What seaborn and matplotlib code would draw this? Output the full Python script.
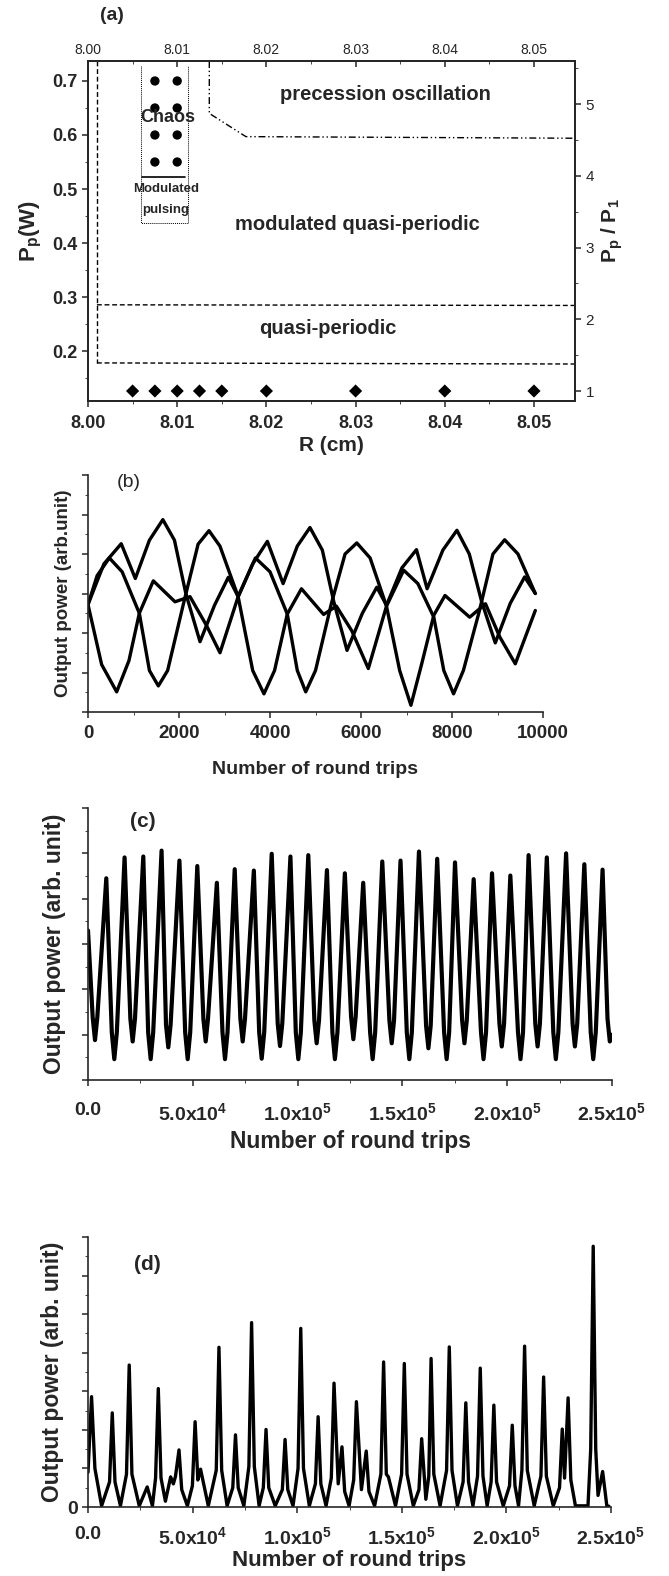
import numpy as np
import pandas as pd
import seaborn as sns
import matplotlib.pyplot as plt
from matplotlib.ticker import MultipleLocator, NullFormatter

# ---------------- panel (a): phase diagram ----------------
diamond_R = [8.005, 8.0075, 8.01, 8.0125, 8.015, 8.02, 8.03, 8.04, 8.05]
diamond_P = [0.126, 0.126, 0.126, 0.126, 0.126, 0.126, 0.126, 0.126, 0.126]
chaos_R = [8.0075, 8.01, 8.0075, 8.01, 8.0075, 8.01, 8.0075, 8.01]
chaos_P = [0.70, 0.70, 0.65, 0.65, 0.60, 0.60, 0.55, 0.55]

edge_R = [8.001, 8.001]
edge_P = [0.737, 0.178]
qp_low_R = [8.001, 8.0546]
qp_low_P = [0.178, 0.176]
qp_up_R = [8.001, 8.0546]
qp_up_P = [0.2856, 0.2844]
prec_R = [8.0136, 8.0136, 8.0177, 8.0546]
prec_P = [0.737, 0.640, 0.597, 0.594]
box_R = [8.0059, 8.0059, 8.0112, 8.0112]
box_P = [0.728, 0.4375, 0.4375, 0.728]
bar_R = [8.006, 8.0109]
bar_P = [0.522, 0.522]

# ---------------- panel (b): three output powers ----------------
b1_x = [0, 200, 469, 750, 1128, 1350, 1546, 1750, 2100, 2420, 2659, 2900, 3300, 3620, 3867, 4100,
        4380, 4691, 4930, 5178, 5459, 5800, 6161, 6560, 6938, 7250, 7600, 7820, 8034, 8250, 8600,
        8900, 9157, 9450, 9831]
b1_y = [2.72, 3.45, 3.90, 3.55, 2.50, 1.05, 0.66, 1.05, 2.75, 4.25, 4.59, 4.20, 2.92, 1.05, 0.46, 1.05,
        2.48, 3.12, 2.80, 2.47, 2.68, 2.05, 1.10, 2.68, 3.59, 3.25, 2.40, 1.05, 0.46, 1.05, 2.55,
        4.00, 4.36, 4.00, 3.00]
b2_x = [0, 350, 730, 1040, 1350, 1645, 1900, 2150, 2462, 2780, 3084, 3300, 3620, 3942, 4288, 4600,
        4878, 5150, 5400, 5693, 6030, 6348, 6560, 6900, 7219, 7453, 7800, 8108, 8380, 8650, 8951,
        9280, 9597, 9831]
b2_y = [2.72, 3.75, 4.26, 3.38, 4.35, 4.87, 4.35, 3.00, 1.78, 2.70, 3.41, 2.92, 3.75, 4.32, 3.25, 4.20,
        4.67, 4.10, 2.80, 1.56, 2.50, 3.16, 2.70, 3.65, 4.11, 3.12, 4.10, 4.60, 4.00, 2.80, 1.75,
        2.75, 3.42, 3.00]
b3_x = [0, 300, 630, 900, 1128, 1436, 1912, 2242, 2600, 2901, 3300, 3680, 4000, 4380, 4600, 4785,
        5000, 5350, 5650, 5908, 6200, 6560, 6850, 7097, 7330, 7600, 7846, 8389, 8736, 9050, 9391,
        9831]
b3_y = [2.72, 1.20, 0.51, 1.30, 2.50, 3.32, 2.79, 2.92, 2.20, 1.50, 2.92, 3.90, 3.55, 2.48, 1.05, 0.51,
        1.05, 2.75, 4.00, 4.28, 3.90, 2.68, 1.05, 0.17, 1.20, 2.45, 2.95, 2.40, 2.74, 1.90, 1.22,
        2.57]

# ---------------- panel (c): regular pulsing ----------------
c_peak_x = [8725, 17450, 26380, 35100, 43620, 52150, 61480, 70000, 79130, 87650,
            96580, 105100, 114000, 122550, 131300, 140400, 149100, 157900, 166600, 175100,
            184000, 192750, 201500, 210200, 218900, 228100, 236800, 245500]
c_peak_y = [4.45, 4.91, 4.93, 5.06, 4.84, 4.72, 4.35, 4.65, 4.62, 4.99,
            4.93, 4.96, 4.63, 4.56, 4.35, 4.82, 4.84, 5.04, 4.88, 4.80,
            4.43, 4.56, 4.51, 4.96, 4.91, 5.00, 4.76, 4.64]
c_trough_x = [0, 3340, 12550, 21310, 29900, 38310, 47560, 56150, 65360, 73800, 82870,
              91600, 100340, 109100, 117800, 126600, 135800, 144900, 153300, 162400, 171100,
              179600, 188700, 197400, 206350, 214500, 223200, 232300, 241050, 248960, 250000]
c_trough_y = [3.30, 0.88, 0.46, 0.85, 0.46, 0.72, 0.46, 0.85, 0.46, 0.85, 0.47,
              0.75, 0.46, 0.81, 0.46, 0.90, 0.46, 0.81, 0.46, 0.70, 0.46,
              0.81, 0.46, 0.74, 0.46, 0.74, 0.46, 0.74, 0.46, 0.85, 1.00]
# rounded bottoms of the troughs
c_side_x = [2240, 4440, 11350, 13750, 20210, 22410, 28700, 31100, 37210, 39410, 46360, 48760,
            55050, 57250, 64160, 66560, 72700, 74900, 81670, 84070, 90500, 92700, 99140, 101540,
            108000, 110200, 116600, 119000, 125500, 127700, 134600, 137000, 143800, 146000,
            152100, 154500, 161300, 163500, 169900, 172300, 178500, 180700, 187500, 189900,
            196300, 198500, 205150, 207550, 213400, 215600, 222000, 224400, 231200, 233400,
            239850, 242250, 247860]
c_side_y = [1.38, 1.38, 1.05, 1.05, 1.35, 1.35, 1.05, 1.05, 1.22, 1.22, 1.05, 1.05,
            1.35, 1.35, 1.05, 1.05, 1.35, 1.35, 1.05, 1.05, 1.25, 1.25, 1.05, 1.05,
            1.31, 1.31, 1.05, 1.05, 1.40, 1.40, 1.05, 1.05, 1.31, 1.31,
            1.05, 1.05, 1.20, 1.20, 1.05, 1.05, 1.31, 1.31, 1.05, 1.05,
            1.24, 1.24, 1.05, 1.05, 1.24, 1.24, 1.05, 1.05, 1.24, 1.24,
            1.05, 1.05, 1.35]

# ---------------- panel (d): irregular pulsing ----------------
d_x = [0, 1700, 3300, 6500, 11600, 15500, 19700, 24500, 28300, 30800,
       33600, 37000, 39500, 40800, 41800, 43500, 47500, 51200, 52500, 53800,
       57500, 62600, 66500, 70500, 74500, 78200, 81800, 85100, 89500, 94200,
       98000, 101700, 105800, 110000, 113800, 117600, 119600, 121400, 124800, 128300,
       130700, 133000, 137000, 141300, 142600, 143600, 147000, 151200, 155500, 159500,
       161500, 164000, 168300, 172700, 176600, 180600, 184000, 187500, 190800, 194000,
       198500, 202800, 205800, 208700, 213300, 217800, 222400, 226700, 227800, 229500,
       233000, 239000, 241500, 243800, 246000, 248000, 249000]
d_y = [0.90, 2.86, 1.00, 0.03, 2.44, 0.03, 3.68, 0.03, 0.52, 0.03,
       3.07, 0.15, 0.78, 0.60, 0.79, 1.48, 0.03, 2.21, 0.70, 0.98,
       0.03, 4.14, 0.03, 1.87, 0.03, 4.78, 0.03, 2.01, 0.03, 1.75,
       0.03, 4.63, 0.03, 2.34, 0.03, 3.21, 0.60, 1.56, 0.03, 2.73,
       0.45, 1.45, 0.03, 3.76, 0.85, 0.78, 0.03, 3.72, 0.03, 1.77,
       0.20, 3.85, 0.03, 4.15, 0.03, 2.70, 0.03, 3.60, 0.03, 2.64,
       0.03, 2.12, 0.03, 4.17, 0.03, 3.37, 0.03, 2.02, 0.75, 2.83,
       0.03, 0.03, 6.76, 0.30, 0.92, 0.03, 0.02]
# flanks of the spikes, where they meet the broad base
d_foot_x = [10300, 12900, 18400, 21000, 32300, 34900, 44800, 49900, 61300, 63900,
            69200, 71800, 76900, 79500, 83800, 86400, 92900, 95500, 100400, 103000,
            108700, 111300, 116300, 122700, 127000, 134300, 140000, 149900, 152500,
            158200, 162900, 165300, 171400, 174000, 179300, 181900, 186200, 188800,
            192700, 195300, 201500, 204100, 207400, 210000, 216500, 219100, 225400,
            230800, 240300, 242700]
d_foot_y = [0.65, 0.65, 0.85, 0.85, 0.75, 0.75, 0.45, 0.55, 0.95, 0.95,
            0.50, 0.50, 1.05, 1.05, 0.50, 0.50, 0.45, 0.45, 1.00, 1.00,
            0.60, 0.60, 0.75, 0.40, 0.70, 0.40, 0.85, 0.85, 0.85,
            0.45, 0.80, 0.85, 0.95, 0.95, 0.65, 0.65, 0.80, 0.80,
            0.65, 0.65, 0.55, 0.55, 0.95, 0.95, 0.80, 0.80, 0.50,
            0.70, 1.50, 1.50]

sns.set_style('ticks')
plt.rcParams['font.family'] = ['Liberation Sans', 'DejaVu Sans']
plt.rcParams['mathtext.fontset'] = 'custom'
plt.rcParams['mathtext.rm'] = 'Liberation Sans'
plt.rcParams['mathtext.bf'] = 'Liberation Sans:bold'
plt.rcParams['mathtext.default'] = 'regular'
plt.rcParams['axes.linewidth'] = 1.2
plt.rcParams['xtick.major.width'] = 1.1
plt.rcParams['ytick.major.width'] = 1.1

W, H = 669, 1576
fig = plt.figure(figsize=(W / 100, H / 100), dpi=100)


def box(l, t, r, b):
    return [l / W, 1 - b / H, (r - l) / W, (b - t) / H]


bold = dict(fontweight='bold')

# ---- (a)
ax_a = fig.add_axes(box(88, 61, 575, 401))
ax_a.set_xlim(8.0, 8.0546)
ax_a.set_ylim(0.1075, 0.737)
ls_dash = (0, (3.5, 2))
ax_a.plot(edge_R, edge_P, color='black', lw=1.0, ls=ls_dash)
ax_a.plot(qp_low_R, qp_low_P, color='black', lw=1.0, ls=ls_dash)
ax_a.plot(qp_up_R, qp_up_P, color='black', lw=1.0, ls=ls_dash)
ax_a.plot(prec_R, prec_P, color='black', lw=1.0, ls=(0, (5, 2, 1, 2, 1, 2)))
ax_a.plot(box_R, box_P, color='black', lw=0.7, ls=(0, (1, 1)))
ax_a.plot(bar_R, bar_P, color='black', lw=1.2)
sns.scatterplot(x=chaos_R, y=chaos_P, ax=ax_a, color='black', s=45, marker='o', edgecolor='none')
sns.scatterplot(x=diamond_R, y=diamond_P, ax=ax_a, color='black', s=45, marker='D', edgecolor='none')

ax_a.text(8.0089, 0.632, 'Chaos', ha='center', va='center', fontsize=13, **bold)
ax_a.text(8.0088, 0.500, 'Modulated', ha='center', va='center', fontsize=9.5, **bold)
ax_a.text(8.0087, 0.461, 'pulsing', ha='center', va='center', fontsize=9.5, **bold)
ax_a.text(8.0333, 0.675, 'precession oscillation', ha='center', va='center', fontsize=14.5, **bold)
ax_a.text(8.0302, 0.434, 'modulated quasi-periodic', ha='center', va='center', fontsize=14.5, **bold)
ax_a.text(8.0269, 0.241, 'quasi-periodic', ha='center', va='center', fontsize=14.5, **bold)

ax_a.set_xticks([8.00, 8.01, 8.02, 8.03, 8.04, 8.05])
ax_a.set_xticklabels(['8.00', '8.01', '8.02', '8.03', '8.04', '8.05'], fontsize=13, **bold)
ax_a.xaxis.set_minor_locator(MultipleLocator(0.005))
ax_a.set_yticks([0.2, 0.3, 0.4, 0.5, 0.6, 0.7])
ax_a.set_yticklabels(['0.2', '0.3', '0.4', '0.5', '0.6', '0.7'], fontsize=13, **bold)
ax_a.yaxis.set_minor_locator(MultipleLocator(0.05))
ax_a.tick_params(which='major', length=4, direction='out')
ax_a.tick_params(which='minor', length=2.5, direction='out')
ax_a.tick_params(axis='x', pad=6)
ax_a.set_xlabel('R (cm)', fontsize=15, labelpad=3, **bold)
ax_a.set_ylabel(r'P$_\mathbf{p}$(W)', fontsize=16, labelpad=6, **bold)

top = ax_a.twiny()
top.set_xlim(ax_a.get_xlim())
top.set_xticks([8.00, 8.01, 8.02, 8.03, 8.04, 8.05])
top.set_xticklabels(['8.00', '8.01', '8.02', '8.03', '8.04', '8.05'], fontsize=10)
top.xaxis.set_minor_locator(MultipleLocator(0.005))
top.tick_params(which='major', length=4, direction='in', pad=3)
top.tick_params(which='minor', length=2.5, direction='in')

right = ax_a.twinx()
p1 = 0.126
right.set_ylim(1 + (0.1075 - p1) / 0.1328, 1 + (0.737 - p1) / 0.1328)
right.set_yticks([1, 2, 3, 4, 5])
right.set_yticklabels(['1', '2', '3', '4', '5'], fontsize=11)
right.yaxis.set_minor_locator(MultipleLocator(0.5))
right.tick_params(which='major', length=4, direction='out')
right.tick_params(which='minor', length=2.5, direction='out')
right.set_ylabel(r'P$_\mathbf{p}$ / P$_\mathbf{1}$', fontsize=15, labelpad=4, **bold)
fig.text(112 / W, 1 - 15 / H, '(a)', ha='center', va='center', fontsize=14, **bold)

# ---- (b)
ax_b = fig.add_axes(box(88, 475, 543, 712))
for xs, ys in [(b1_x, b1_y), (b2_x, b2_y), (b3_x, b3_y)]:
    sns.lineplot(x=xs, y=ys, ax=ax_b, color='black', lw=2.4, estimator=None)
ax_b.set_xlim(0, 10000)
ax_b.set_ylim(0, 6)
ax_b.set_xticks([0, 2000, 4000, 6000, 8000, 10000])
ax_b.set_xticklabels(['0', '2000', '4000', '6000', '8000', '10000'], fontsize=13.5, **bold)
ax_b.xaxis.set_minor_locator(MultipleLocator(1000))
ax_b.yaxis.set_major_locator(MultipleLocator(1))
ax_b.yaxis.set_minor_locator(MultipleLocator(0.5))
ax_b.yaxis.set_major_formatter(NullFormatter())
ax_b.tick_params(which='major', length=4, direction='out')
ax_b.tick_params(which='minor', length=2.5, direction='out')
ax_b.tick_params(axis='x', pad=5)
ax_b.set_xlabel('Number of round trips', fontsize=14, labelpad=14, **bold)
ax_b.set_ylabel('Output power (arb.unit)', fontsize=13.5, labelpad=4, **bold)
ax_b.text(0.09, 0.97, '(b)', transform=ax_b.transAxes, fontsize=14, va='center', ha='center')
sns.despine(ax=ax_b)

big_ticks = [0, 50000, 100000, 150000, 200000, 250000]
big_labels = ['0.0', r'5.0x10$^\mathbf{4}$', r'1.0x10$^\mathbf{5}$', r'1.5x10$^\mathbf{5}$',
              r'2.0x10$^\mathbf{5}$', r'2.5x10$^\mathbf{5}$']

# ---- (c)
ax_c = fig.add_axes(box(88, 808, 612, 1080))
c_df = pd.DataFrame({'x': c_peak_x + c_trough_x + c_side_x,
                     'y': c_peak_y + c_trough_y + c_side_y}).sort_values('x')
sns.lineplot(data=c_df, x='x', y='y', ax=ax_c, color='black', lw=3.0, estimator=None)
ax_c.set_xlim(0, 250000)
ax_c.set_ylim(0, 6)
ax_c.set_xticks(big_ticks)
ax_c.set_xticklabels(big_labels, fontsize=14, **bold)
ax_c.xaxis.set_minor_locator(MultipleLocator(25000))
ax_c.yaxis.set_major_locator(MultipleLocator(1))
ax_c.yaxis.set_minor_locator(MultipleLocator(0.5))
ax_c.yaxis.set_major_formatter(NullFormatter())
ax_c.tick_params(which='major', length=4, direction='out')
ax_c.tick_params(which='minor', length=2.5, direction='out')
ax_c.tick_params(axis='x', pad=12)
ax_c.set_xlabel('Number of round trips', fontsize=16.5, labelpad=4, **bold)
ax_c.set_ylabel('Output power (arb. unit)', fontsize=16.5, labelpad=8, **bold)
ax_c.text(0.105, 0.95, '(c)', transform=ax_c.transAxes, fontsize=15, va='center', ha='center', **bold)
sns.despine(ax=ax_c)

# ---- (d)
ax_d = fig.add_axes(box(88, 1237, 611, 1507))
d_df = pd.DataFrame({'x': d_x + d_foot_x, 'y': d_y + d_foot_y}).sort_values('x')
sns.lineplot(data=d_df, x='x', y='y', ax=ax_d, color='black', lw=2.4, estimator=None)
ax_d.set_xlim(0, 250000)
ax_d.set_ylim(0, 7)
ax_d.set_xticks(big_ticks)
ax_d.set_xticklabels(big_labels, fontsize=14, **bold)
ax_d.xaxis.set_minor_locator(MultipleLocator(25000))
ax_d.set_yticks([0, 1, 2, 3, 4, 5, 6, 7])
ax_d.set_yticklabels(['0', '', '', '', '', '', '', ''], fontsize=14, **bold)
ax_d.yaxis.set_minor_locator(MultipleLocator(0.5))
ax_d.tick_params(which='major', length=4, direction='out')
ax_d.tick_params(which='minor', length=2.5, direction='out')
ax_d.tick_params(axis='x', pad=10)
ax_d.set_xlabel('Number of round trips', fontsize=16, labelpad=1, **bold)
ax_d.set_ylabel('Output power (arb. unit)', fontsize=16.5, labelpad=2, **bold)
ax_d.text(0.113, 0.9, '(d)', transform=ax_d.transAxes, fontsize=15, va='center', ha='center', **bold)
sns.despine(ax=ax_d)

fig.savefig('out.png', dpi=100)
